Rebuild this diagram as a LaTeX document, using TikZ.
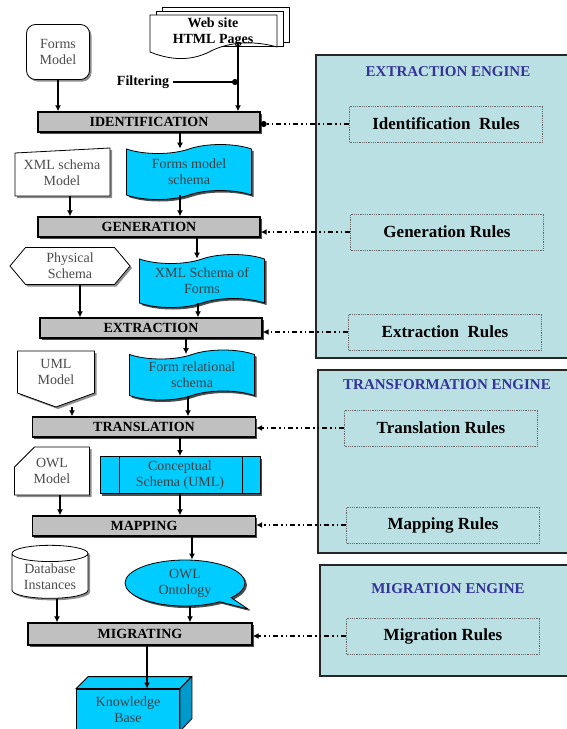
\documentclass[tikz,border=0pt]{standalone}
\usepackage{fontspec}
\setmainfont{Liberation Serif}
\usetikzlibrary{shapes.geometric, shapes.symbols, shapes.misc, shapes.callouts,
                arrows.meta, shadows, calc}
\definecolor{cyanbox}{HTML}{00CCFF}
\definecolor{cyanside}{HTML}{0099CC}
\definecolor{barfill}{HTML}{C0C0C0}
\definecolor{enginefill}{HTML}{BBE0E3}
\definecolor{enginetitle}{HTML}{333399}
\tikzset{
  % --- Chaine principale --------------------------------------
  stage/.style={draw, line width=1.4pt, fill=barfill, minimum width=222pt,
    minimum height=20pt, inner sep=0pt, font=\fontsize{14}{16}\selectfont\bfseries,
    drop shadow={shadow xshift=1.5pt, shadow yshift=-1.5pt, fill=black!70, opacity=1}},
  srcbox/.style={draw, thick, fill=white, align=center, inner sep=1pt,
    font=\fontsize{14}{16}\selectfont, text=black!70,
    drop shadow={shadow xshift=2pt, shadow yshift=-2pt, fill=black!45, opacity=1}},
  cyanshape/.style={draw, thick, fill=cyanbox, align=center, inner sep=1pt,
    font=\fontsize{14}{16}\selectfont, text=black!75,
    drop shadow={shadow xshift=2pt, shadow yshift=-2pt, fill=black!70, opacity=1}},
  tapebox/.style={cyanshape, tape, tape bend height=9pt},
  flow/.style={-{Latex[length=6pt, width=6pt]}, line width=1.6pt},
  % --- Moteurs ------------------------------------------------
  engine/.style={draw=black!85, line width=1.5pt, fill=enginefill},
  enginelbl/.style={font=\fontsize{15}{17}\selectfont\bfseries, text=enginetitle},
  rulebox/.style={draw=black!60, densely dotted, thick, minimum width=193pt,
    minimum height=36pt, font=\fontsize{17}{19}\selectfont\bfseries},
  rulelink/.style={line width=1.2pt,
    dash pattern=on 5pt off 3pt on 1.5pt off 3pt on 1.5pt off 3pt,
    -{Latex[length=6pt, width=6pt]}}
}
\begin{document}
\begin{tikzpicture}[x=1pt, y=-1pt]
  \useasboundingbox (0,0) rectangle (567,729);

  % --- Moteurs a droite -------------------------------------------
  \draw[engine] (316,55) rectangle (580,358);
  \draw[engine] (318,370) rectangle (580,553);
  \draw[engine] (320,565) rectangle (580,676);
  \node[enginelbl] (tExt) at (448,72) {EXTRACTION ENGINE};
  \node[enginelbl] (tTra) at (447,385) {TRANSFORMATION ENGINE};
  \node[enginelbl] (tMig) at (448,589) {MIGRATION ENGINE};

  \node[rulebox] (rIdf) at (446,124) {Identification\ \ Rules};
  \node[rulebox] (rGen) at (447,232) {Generation Rules};
  \node[rulebox] (rExt) at (445,332) {Extraction\ \ Rules};
  \node[rulebox] (rTra) at (441,428) {Translation Rules};
  \node[rulebox] (rMap) at (443,525) {Mapping Rules};
  \node[rulebox] (rMig) at (443,636) {Migration Rules};

  % --- Pages du site web ------------------------------------------
  \draw[thick, fill=white] (162,7) rectangle (289,42);
  \draw[thick, fill=white] (156,11) rectangle (283,46);
  \draw[thick, fill=white] (150,15) -- (150,52) .. controls (175,62) and (195,60) .. (213,50)
    .. controls (235,40) and (260,42) .. (277,47) -- (277,15) -- cycle;
  \node[font=\fontsize{14}{16}\selectfont\bfseries, align=center] (web) at (213,32) {Web site\\HTML Pages};
  \coordinate (webTap) at (238,44);
  \node[font=\fontsize{14}{16}\selectfont\bfseries] (filt) at (143,82) {Filtering};

  % --- Etapes -------------------------------------------------------
  \node[stage] (ident) at (149,122) {IDENTIFICATION};
  \node[stage] (gen) at (149,227) {GENERATION};
  \node[stage] (extr) at (151,328) {EXTRACTION};
  \node[stage, minimum width=223pt] (trans) at (144,427) {TRANSLATION};
  \node[stage, minimum width=223pt] (map) at (144,526) {MAPPING};
  \node[stage, minimum width=224pt, minimum height=22pt] (migr) at (140,634) {MIGRATING};

  % --- Modeles d'entree ---------------------------------------------
  \node[srcbox, rounded corners=9pt, minimum width=63pt, minimum height=55pt] (forms) at (58,52) {Forms\\Model};
  \path[draw, thick, fill=white, drop shadow={shadow xshift=2pt, shadow yshift=-2pt, fill=black!45, opacity=1}]
    (15,153) -- (110,148) -- (110,196) -- (15,196) -- cycle;
  \node[align=center, font=\fontsize{14}{16}\selectfont, text=black!70] (xmlm) at (62,173) {XML schema\\Model};
  \node[srcbox, signal, signal to=west and east, signal pointer angle=100,
    minimum width=120pt, minimum height=37pt] (phys) at (70,266) {Physical\\Schema};
  \node[srcbox, signal, signal to=south, signal pointer angle=140,
    minimum width=77pt, minimum height=49pt] (uml) at (56,372) {UML\\Model};
  \node[srcbox, chamfered rectangle, chamfered rectangle corners=north west,
    chamfered rectangle xsep=10pt, chamfered rectangle ysep=10pt,
    minimum width=75pt, minimum height=48pt] (owlm) at (52,471) {OWL\\Model};
  \node[srcbox, cylinder, shape border rotate=90, aspect=0.3,
    minimum width=76pt, minimum height=53pt] (db) at (50,577) {Database\\Instances};

  % --- Resultats intermediaires ---------------------------------------
  \node[tapebox, minimum width=125pt, minimum height=55pt] (fms) at (189,172) {Forms model\\schema};
  \node[tapebox, minimum width=125pt, minimum height=53pt] (xsf) at (202,281) {XML Schema of\\Forms};
  \node[tapebox, minimum width=125pt, minimum height=50pt] (frs) at (192,375) {Form relational\\schema};
  \node[cyanshape, minimum width=160pt, minimum height=37pt] (cs) at (180,475) {Conceptual\\Schema (UML)};
  \draw[thick] ([xshift=20pt]cs.north west) -- ([xshift=20pt]cs.south west);
  \draw[thick] ([xshift=-18pt]cs.north east) -- ([xshift=-18pt]cs.south east);
  \node[cyanshape, ellipse callout, callout absolute pointer={(248,609)},
    minimum width=120pt, minimum height=46pt] (owlo) at (185,583) {OWL\\Ontology};

  % --- Base de connaissances (cube) ---------------------------------
  \node[cyanshape, drop shadow={opacity=0}, minimum width=103pt, minimum height=42pt] (kb) at (128,710) {Knowledge\\Base};
  \draw[thick, fill=cyanbox] (kb.north west) -- ++(12,-12) -- ++(103,0) -- (kb.north east) -- cycle;
  \draw[thick, fill=cyanside] (kb.north east) -- ++(12,-12) -- ++(0,42) -- (kb.south east) -- cycle;

  % --- Fleches ------------------------------------------------------
  \draw[flow] (forms.south) -- (forms.south |- ident.north);
  \draw[flow] (webTap) -- (webTap |- ident.north);
  \draw[line width=1.6pt, -{Circle[length=6pt]}] (filt.east) -- (filt.east -| webTap);
  \draw[flow] ([xshift=-9pt]fms.north |- ident.south) -- ([xshift=-9pt]fms.north);
  \draw[flow] ([xshift=8pt]xmlm.south |- 0,196) -- ([xshift=8pt]xmlm.south |- gen.north);
  \draw[flow] ([xshift=-9pt]fms.south) -- ([xshift=-9pt]fms.south |- gen.north);
  \draw[flow] ([xshift=-5pt]xsf.north |- gen.south) -- ([xshift=-5pt]xsf.north);
  \draw[flow] ([xshift=10pt]phys.south) -- ([xshift=10pt]phys.south |- extr.north);
  \draw[flow] ([xshift=-4pt]xsf.south) -- ([xshift=-4pt]xsf.south |- extr.north);
  \draw[flow] ([xshift=-6pt]frs.north |- extr.south) -- ([xshift=-6pt]frs.north);
  \draw[flow] ([xshift=16pt]uml.south) -- ([xshift=16pt]uml.south |- trans.north);
  \draw[flow] ([xshift=-4pt]frs.south) -- ([xshift=-4pt]frs.south |- trans.north);
  \draw[flow] (cs.north |- trans.south) -- (cs.north);
  \draw[flow] ([xshift=8pt]owlm.south) -- ([xshift=8pt]owlm.south |- map.north);
  \draw[flow] (cs.south) -- (cs.south |- map.north);
  \draw[flow] ([xshift=7pt]owlo.north |- map.south) -- ([xshift=7pt]owlo.north);
  \draw[flow] ([xshift=7pt]db.south) -- ([xshift=7pt]db.south |- migr.north);
  \draw[flow] ([xshift=5pt]owlo.south) -- ([xshift=5pt]owlo.south |- migr.north);
  \draw[flow] ([xshift=7pt]migr.south) -- ([xshift=7pt]migr.south |- kb.north);

  % --- Liens vers les regles ------------------------------------------
  \draw[rulelink, -{Circle[length=6pt]}] (rIdf.west) -- (rIdf.west -| ident.east);
  \draw[rulelink] (rGen.west) -- (rGen.west -| gen.east);
  \draw[rulelink] (rExt.west) -- (rExt.west -| extr.east);
  \draw[rulelink] (rTra.west) -- (rTra.west -| trans.east);
  \draw[rulelink] (rMap.west) -- (rMap.west -| map.east);
  \draw[rulelink] (rMig.west) -- (rMig.west -| migr.east);

\end{tikzpicture}
\end{document}
